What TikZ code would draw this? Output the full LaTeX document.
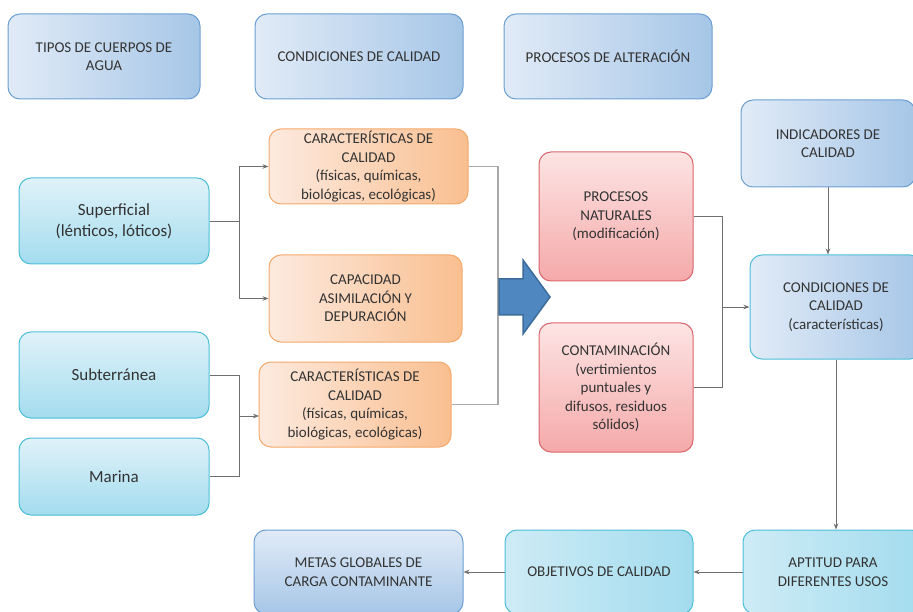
\documentclass[tikz,border=0pt]{standalone}
\usepackage{fontspec}
\setmainfont{Carlito}
\usetikzlibrary{arrows.meta}
\definecolor{txt}{HTML}{333333}
\definecolor{bluL}{HTML}{E1EBF7}
\definecolor{bluD}{HTML}{A6C6E7}
\definecolor{bluB}{HTML}{6C9FD2}
\definecolor{cyaL}{HTML}{E0F2F9}
\definecolor{cyaD}{HTML}{A3DCEE}
\definecolor{cyaB}{HTML}{4CBFD7}
\definecolor{oraL}{HTML}{FDEADF}
\definecolor{oraD}{HTML}{F9BF90}
\definecolor{oraB}{HTML}{F5A96B}
\definecolor{redL}{HTML}{FDE4E4}
\definecolor{redD}{HTML}{F5A9A9}
\definecolor{redB}{HTML}{D8666B}
\definecolor{arrF}{HTML}{4F88C0}
\definecolor{arrB}{HTML}{3C6C9C}
\definecolor{lnD}{HTML}{6F6F6F}
\definecolor{lnL}{HTML}{A8A8A8}
\tikzset{
  box/.style={rounded corners=12pt, line width=1pt, align=center, text=txt,
    inner sep=0pt, font=\fontsize{15}{18.5}\selectfont},
  hblue/.style={box, draw=bluB, left color=bluL, right color=bluD},
  vblue/.style={box, draw=bluB, top color=bluL, bottom color=bluD},
  hcyanb/.style={box, draw=cyaB, left color=bluL, right color=bluD},
  vcyan/.style={box, draw=cyaB, top color=cyaL, bottom color=cyaD, font=\fontsize{17}{21}\selectfont},
  hcyan/.style={box, draw=cyaB, left color=cyaL!70!cyaD, right color=cyaD},
  horange/.style={box, draw=oraB, left color=oraL, right color=oraD},
  vred/.style={box, draw=redB, top color=redL, bottom color=redD},
  conn/.style={draw=lnD, line width=0.8pt},
  connL/.style={draw=lnL, line width=1.2pt},
  arr/.style={-{Stealth[length=6pt,width=4.5pt]}}
}
\begin{document}
\begin{tikzpicture}[x=1pt,y=-1pt]
\useasboundingbox (0,0) rectangle (913,612);
\clip (0,0) rectangle (913,612);
% headers
\node[hblue, minimum width=192pt, minimum height=85pt] (tipos) at (104,56.5) {TIPOS DE CUERPOS DE\\AGUA};
\node[hblue, minimum width=208pt, minimum height=85pt] (condh) at (359,56.5) {CONDICIONES DE CALIDAD};
\node[hblue, minimum width=208pt, minimum height=85pt] (proch) at (608,56.5) {PROCESOS DE ALTERACIÓN};
\node[hblue, minimum width=174pt, minimum height=87pt] (indic) at (828,143.5) {INDICADORES DE\\CALIDAD};
% water bodies
\node[vcyan, minimum width=190pt, minimum height=86pt] (sup) at (114,221) {Superficial\\(lénticos, lóticos)};
\node[vcyan, minimum width=190pt, minimum height=86pt] (sub) at (114,375) {Subterránea};
\node[vcyan, minimum width=190pt, minimum height=77pt] (mar) at (114,476.5) {Marina};
% orange
\node[horange, minimum width=199pt, minimum height=75pt] (car1) at (368.5,166.5) {CARACTERÍSTICAS DE\\CALIDAD\\(físicas, químicas,\\biológicas, ecológicas)};
\node[horange, minimum width=193pt, minimum height=87pt] (cap) at (365.5,298.5) {CAPACIDAD\\ASIMILACIÓN Y\\DEPURACIÓN};
\node[horange, minimum width=192pt, minimum height=85pt] (car2) at (355,404.5) {CARACTERÍSTICAS DE\\CALIDAD\\(físicas, químicas,\\biológicas, ecológicas)};
% red
\node[vred, minimum width=154pt, minimum height=129pt] (pn) at (616,216.5) {PROCESOS\\NATURALES\\(modificación)};
\node[vred, minimum width=154pt, minimum height=129pt] (cont) at (616,387.5) {CONTAMINACIÓN\\(vertimientos\\puntuales y\\difusos, residuos\\sólidos)};
% right
\node[hcyanb, minimum width=172pt, minimum height=104pt] (cond) at (836,307) {CONDICIONES DE\\CALIDAD\\(características)};
\node[hcyan, minimum width=180pt, minimum height=84pt] (apt) at (833,572) {APTITUD PARA\\DIFERENTES USOS};
\node[hcyan, minimum width=188pt, minimum height=84pt] (obj) at (599,572) {OBJETIVOS DE CALIDAD};
\node[vblue, minimum width=209pt, minimum height=84pt] (metas) at (358.5,572) {METAS GLOBALES DE\\CARGA CONTAMINANTE};
% connectors
\coordinate (j1) at (239,221);
\draw[conn] (sup.east) -- (j1);
\draw[conn, arr] (j1) |- (car1.west);
\draw[conn, arr] (j1) |- (cap.west);
\coordinate (j2) at (239,416);
\draw[conn] (sub.east) -| (j2);
\draw[conn] (mar.east) -| (j2);
\coordinate (j2e) at (259,416);
\draw[conn, arr] (j2) -- (j2e);
\coordinate (j3) at (498,404.5);
\draw[connL] (car1.east) -| (j3) -- (car2.east);
\coordinate (j4) at (722,307);
\draw[conn] (pn.east) -| (j4);
\draw[conn] (cont.east) -| (j4);
\draw[conn, arr] (j4) -- (cond.west);
\draw[conn, arr] (indic.south) -- (indic.south |- cond.north);
\draw[conn, arr] (cond.south) -- (cond.south |- apt.north);
\draw[conn, arr] (apt.west) -- (obj.east);
\draw[conn, arr] (obj.west) -- (metas.east);
% big arrow
\draw[fill=arrF, draw=arrB, line width=1.5pt, line join=miter]
  (499,279) -- (523,279) -- (523,260) -- (550,297) -- (523,334) -- (523,315) -- (499,315) -- cycle;
\end{tikzpicture}
\end{document}
